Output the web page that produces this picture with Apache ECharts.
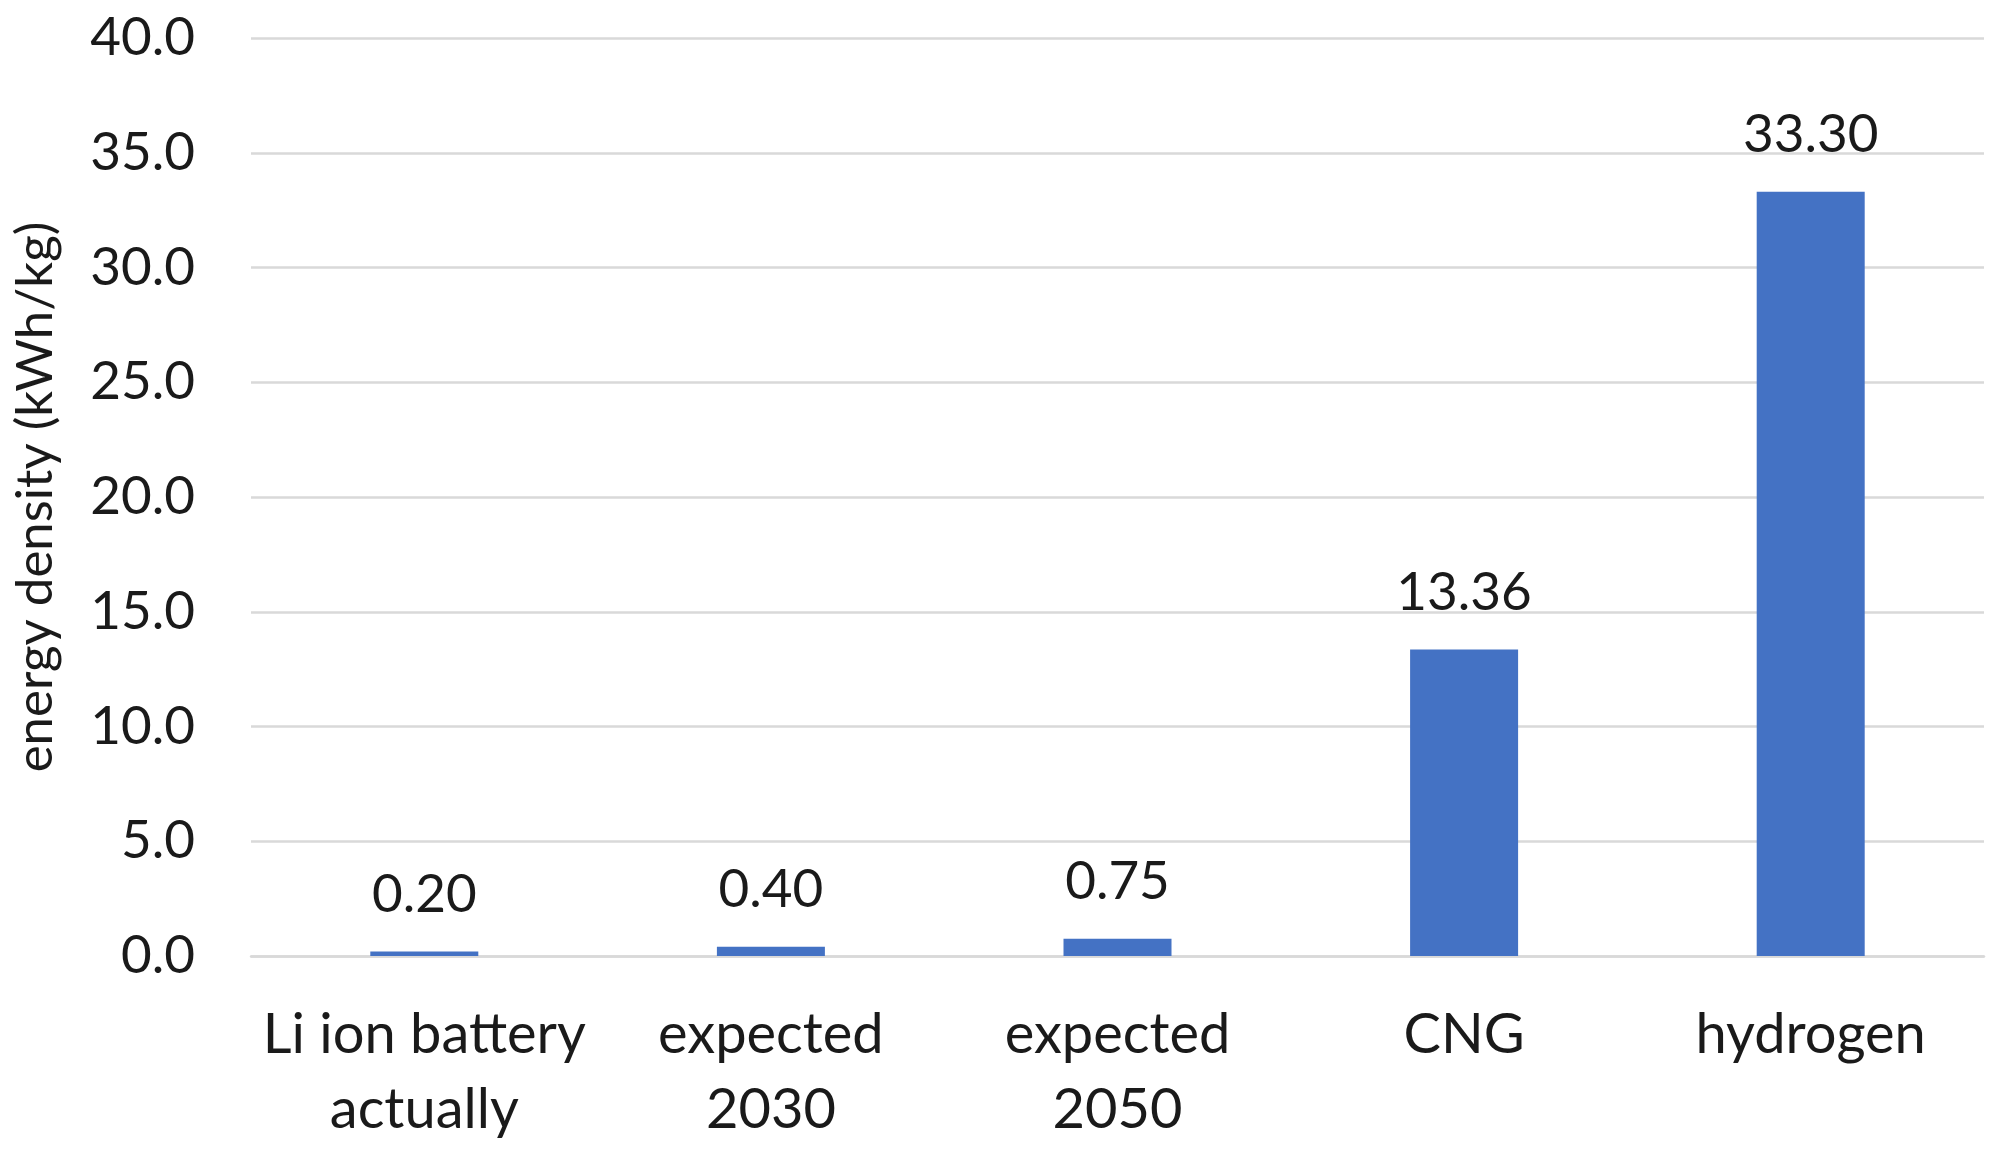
<!DOCTYPE html>
<html>
<head>
<meta charset="utf-8">
<script src="https://cdn.jsdelivr.net/npm/echarts@6/dist/echarts.min.js"></script>
<style>
html,body{margin:0;padding:0;background:#fff;}
#chart{width:1999px;height:1155px;}
</style>
</head>
<body>
<div id="chart"></div>
<script>
const categories = ["Li ion battery\nactually", "expected\n2030", "expected\n2050", "CNG", "hydrogen"];
const values = [0.20, 0.40, 0.75, 13.36, 33.30];
const yTicks = { min: 0, max: 40, interval: 5 };
const yTitle = "energy density (kWh/kg)";

const FONT = "Lato";
const TEXT = "#1a1a1a";
const chart = echarts.init(document.getElementById('chart'), null, { renderer: 'canvas' });
chart.setOption({
  animation: false,
  backgroundColor: '#ffffff',
  grid: { left: 251, right: 15, top: 38, bottom: 199, containLabel: false },
  xAxis: {
    type: 'category',
    data: categories,
    axisLine: { show: true, lineStyle: { color: '#d9d9d9', width: 2.5 } },
    axisTick: { show: false },
    axisLabel: { color: TEXT, fontFamily: FONT, fontSize: 56, lineHeight: 75, margin: 41, interval: 0 },
    splitLine: { show: false }
  },
  yAxis: {
    type: 'value',
    min: yTicks.min, max: yTicks.max, interval: yTicks.interval,
    name: yTitle,
    nameLocation: 'middle',
    nameRotate: 90,
    nameGap: 190,
    nameTextStyle: { color: TEXT, fontFamily: FONT, fontSize: 51 },
    axisLine: { show: false },
    axisTick: { show: false },
    axisLabel: { color: TEXT, fontFamily: FONT, fontSize: 53, margin: 56, formatter: v => v.toFixed(1) },
    splitLine: { show: true, lineStyle: { color: '#d9d9d9', width: 2.5 } }
  },
  series: [{
    type: 'bar',
    data: values,
    barWidth: 108,
    itemStyle: { color: '#4472C4' },
    label: { show: true, position: 'top', distance: 30, color: TEXT, fontFamily: FONT, fontSize: 53, formatter: p => p.value.toFixed(2) }
  }]
});
</script>
</body>
</html>
